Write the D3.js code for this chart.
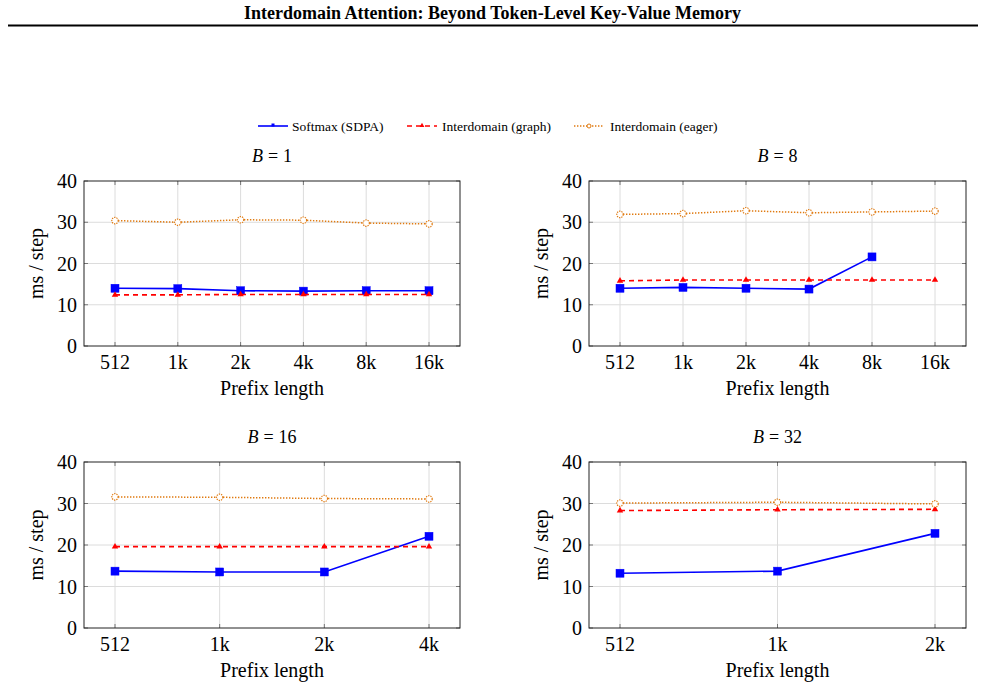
<!DOCTYPE html>
<html>
<head>
<meta charset="utf-8">
<script src="https://cdn.jsdelivr.net/npm/d3@7"></script>
<style>
  body { margin: 0; background: white; }
  svg text { font-family: "Liberation Serif", "DejaVu Serif", serif; fill: #000; }
</style>
</head>
<body>
<div id="chart"></div>
<script>
// data
const prefixLabels = ["512", "1k", "2k", "4k", "8k", "16k"];
const batchSizes = [1, 8, 16, 32];
const prefixCount = [6, 6, 4, 3];
const softmaxMs = [
  [14.0, 13.9, 13.4, 13.3, 13.4, 13.4],
  [14.0, 14.2, 14.0, 13.8, 21.6],
  [13.7, 13.5, 13.5, 22.1],
  [13.2, 13.7, 22.8]
];
const graphMs = [
  [12.4, 12.4, 12.5, 12.5, 12.5, 12.5],
  [15.8, 16.0, 16.0, 16.0, 16.0, 16.0],
  [19.6, 19.6, 19.6, 19.6],
  [28.3, 28.5, 28.6]
];
const eagerMs = [
  [30.4, 30.0, 30.6, 30.5, 29.8, 29.6],
  [31.9, 32.1, 32.8, 32.3, 32.5, 32.7],
  [31.6, 31.5, 31.2, 31.1],
  [30.1, 30.3, 29.9]
];
const seriesNames = ["Softmax (SDPA)", "Interdomain (graph)", "Interdomain (eager)"];
const yTicks = [0, 10, 20, 30, 40];

// config
const width = 985, height = 687;
const boxes = [
  {x0: 84, x1: 460, y0: 181, y1: 346},
  {x0: 589, x1: 966, y0: 181, y1: 346},
  {x0: 84, x1: 460, y0: 462, y1: 628},
  {x0: 589, x1: 966, y0: 462, y1: 628}
];
const styles = [
  {color: "#0000ff", width: 1.6, dash: null, marker: "square"},
  {color: "#ff0000", width: 1.6, dash: "5,4", marker: "triangle"},
  {color: "#e07a10", width: 1.5, dash: "1.4,1.6", marker: "circle"}
];

const svg = d3.select("#chart").append("svg")
  .attr("width", width).attr("height", height)
  .style("background", "white");

// page header
svg.append("text").attr("x", width / 2).attr("y", 19)
  .attr("text-anchor", "middle").style("font-size", "18px").style("font-weight", "bold")
  .text("Interdomain Attention: Beyond Token-Level Key-Value Memory");
svg.append("line").attr("x1", 8).attr("x2", 978).attr("y1", 25.5).attr("y2", 25.5)
  .attr("stroke", "#000").attr("stroke-width", 2);

const drawMarker = (g, type, color, x, y) => {
  if (type === "square") {
    g.append("rect").attr("x", x - 4).attr("y", y - 4).attr("width", 8).attr("height", 8)
      .attr("fill", color).attr("stroke", color).attr("stroke-width", 0.5);
  } else if (type === "triangle") {
    g.append("path").attr("d", d3.symbol(d3.symbolTriangle, 18)())
      .attr("transform", `translate(${x},${y})`).attr("fill", color);
  } else {
    g.append("circle").attr("cx", x).attr("cy", y).attr("r", 3.2)
      .attr("fill", "white").attr("stroke", color).attr("stroke-width", 1.2)
      .attr("stroke-dasharray", "1.3,1");
  }
};

// legend
const legendItems = [
  {x: 258, tx: 292},
  {x: 407, tx: 442},
  {x: 574, tx: 610}
];
legendItems.forEach((li, i) => {
  const s = styles[i];
  const g = svg.append("g");
  g.append("line").attr("x1", li.x).attr("x2", li.x + 30).attr("y1", 126).attr("y2", 126)
    .attr("stroke", s.color).attr("stroke-width", s.width)
    .attr("stroke-dasharray", s.dash);
  if (s.marker === "square") {
    g.append("rect").attr("x", li.x + 13.5).attr("y", 123.5).attr("width", 3).attr("height", 3).attr("fill", s.color);
  } else if (s.marker === "triangle") {
    g.append("path").attr("d", d3.symbol(d3.symbolTriangle, 10)())
      .attr("transform", `translate(${li.x + 15},125.5)`).attr("fill", s.color);
  } else {
    g.append("circle").attr("cx", li.x + 15).attr("cy", 126).attr("r", 2)
      .attr("fill", "white").attr("stroke", s.color).attr("stroke-width", 1);
  }
  g.append("text").attr("x", li.tx).attr("y", 130.5).style("font-size", "13.5px").text(seriesNames[i]);
});

// panels
batchSizes.forEach((b, p) => {
  const box = boxes[p];
  const labels = prefixLabels.slice(0, prefixCount[p]);
  const x = d3.scalePoint().domain(labels).range([box.x0 + 31, box.x1 - 31]);
  const y = d3.scaleLinear().domain([0, 40]).range([box.y1, box.y0]);
  const g = svg.append("g");

  // grid
  g.append("g").selectAll("line").data(labels).enter().append("line")
    .attr("x1", d => x(d)).attr("x2", d => x(d)).attr("y1", box.y0).attr("y2", box.y1)
    .attr("stroke", "#dcdcdc").attr("stroke-width", 1);
  g.append("g").selectAll("line").data(yTicks.slice(1, -1)).enter().append("line")
    .attr("x1", box.x0).attr("x2", box.x1).attr("y1", d => y(d)).attr("y2", d => y(d))
    .attr("stroke", "#dcdcdc").attr("stroke-width", 1);

  // inward ticks on all sides
  const tk = 4;
  labels.forEach(d => {
    g.append("line").attr("x1", x(d)).attr("x2", x(d)).attr("y1", box.y1).attr("y2", box.y1 - tk).attr("stroke", "#777");
    g.append("line").attr("x1", x(d)).attr("x2", x(d)).attr("y1", box.y0).attr("y2", box.y0 + tk).attr("stroke", "#777");
  });
  yTicks.forEach(d => {
    g.append("line").attr("x1", box.x0).attr("x2", box.x0 + tk).attr("y1", y(d)).attr("y2", y(d)).attr("stroke", "#777");
    g.append("line").attr("x1", box.x1).attr("x2", box.x1 - tk).attr("y1", y(d)).attr("y2", y(d)).attr("stroke", "#777");
  });

  // frame
  g.append("rect").attr("x", box.x0).attr("y", box.y0)
    .attr("width", box.x1 - box.x0).attr("height", box.y1 - box.y0)
    .attr("fill", "none").attr("stroke", "#222").attr("stroke-width", 1);

  // tick labels
  g.append("g").selectAll("text").data(labels).enter().append("text")
    .attr("x", d => x(d)).attr("y", box.y1 + 23).attr("text-anchor", "middle")
    .style("font-size", "20px").text(d => d);
  g.append("g").selectAll("text").data(yTicks).enter().append("text")
    .attr("x", box.x0 - 7).attr("y", d => y(d) + 7).attr("text-anchor", "end")
    .style("font-size", "20px").text(d => d);

  // axis titles
  g.append("text").attr("x", (box.x0 + box.x1) / 2).attr("y", box.y1 + 49)
    .attr("text-anchor", "middle").style("font-size", "20px").text("Prefix length");
  g.append("text")
    .attr("transform", `translate(${box.x0 - 41},${(box.y0 + box.y1) / 2}) rotate(-90)`)
    .attr("text-anchor", "middle").style("font-size", "20px").text("ms / step");

  // panel title
  const t = g.append("text").attr("x", (box.x0 + box.x1) / 2).attr("y", box.y0 - 19)
    .attr("text-anchor", "middle").style("font-size", "18px");
  t.append("tspan").style("font-style", "italic").text("B");
  t.append("tspan").attr("dx", 5).text("=");
  t.append("tspan").attr("dx", 5).text(b);

  // series
  [softmaxMs[p], graphMs[p], eagerMs[p]].forEach((vals, si) => {
    const s = styles[si];
    const pts = vals.map((v, i) => [x(labels[i]), y(v)]);
    g.append("path").attr("d", d3.line()(pts))
      .attr("fill", "none").attr("stroke", s.color).attr("stroke-width", s.width)
      .attr("stroke-dasharray", s.dash);
    pts.forEach(pt => drawMarker(g, s.marker, s.color, pt[0], pt[1]));
  });
});
</script>
</body>
</html>
